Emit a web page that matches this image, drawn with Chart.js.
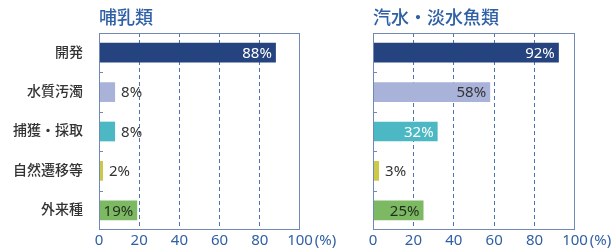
<!DOCTYPE html>
<html>
<head>
<meta charset="utf-8">
<script src="https://cdn.jsdelivr.net/npm/chart.js@4"></script>
<style>
  html, body { margin: 0; padding: 0; background: #fff; }
  #wrap { position: relative; width: 615px; height: 249px; overflow: hidden; }
  .box { position: absolute; top: 0; height: 249px; }
</style>
</head>
<body>
<div id="wrap">
  <div class="box" style="left:0;width:350px"><canvas id="left"></canvas></div>
  <div class="box" style="left:350px;width:265px"><canvas id="right"></canvas></div>
</div>
<script>
const categories = ['開発', '水質汚濁', '捕獲・採取', '自然遷移等', '外来種'];
const mammalValues = [88, 8, 8, 2, 19];
const fishValues = [92, 58, 32, 3, 25];
const xTicks = [0, 20, 40, 60, 80, 100];

const barColors = ['#24437f', '#a9b2d8', '#4cb8c4', '#cbc84a', '#7db862'];
const insideTextColors = ['#ffffff', '#333333', '#ffffff', '#333333', '#1f2f1f'];
const axisBlue = '#2f5fa5';
const fontFamily = "'Noto Sans', 'Noto Sans CJK JP', sans-serif";

// draws the frame, small category ticks, value labels, title and the "(%)" unit
const decorate = {
  id: 'decorate',
  afterDatasetsDraw(chart, args, opts) {
    const ctx = chart.ctx;
    const area = chart.chartArea;
    const y = chart.scales.y;
    const x = chart.scales.x;
    ctx.save();

    ctx.strokeStyle = '#7088b4';
    ctx.lineWidth = 1;
    ctx.strokeRect(area.left + 0.5, area.top + 0.5, area.width - 1, area.height - 1);

    ctx.beginPath();
    for (let i = 0; i < categories.length - 1; i++) {
      const py = Math.round((y.getPixelForValue(i) + y.getPixelForValue(i + 1)) / 2) + 0.5;
      ctx.moveTo(area.left, py);
      ctx.lineTo(area.left + 4, py);
    }
    ctx.stroke();

    const meta = chart.getDatasetMeta(0);
    const values = chart.data.datasets[0].data;
    ctx.font = '15px ' + fontFamily;
    ctx.textBaseline = 'middle';
    meta.data.forEach((bar, i) => {
      const v = values[i];
      const text = v + '%';
      if (v >= 15) {
        ctx.fillStyle = insideTextColors[i];
        ctx.textAlign = 'right';
        ctx.fillText(text, bar.x - 4, bar.y + 1);
      } else {
        ctx.fillStyle = '#333333';
        ctx.textAlign = 'left';
        ctx.fillText(text, bar.x + 6, bar.y + 1);
      }
    });

    ctx.fillStyle = axisBlue;
    ctx.font = '500 18px ' + fontFamily;
    ctx.textAlign = 'left';
    ctx.textBaseline = 'middle';
    ctx.fillText(opts.title, area.left, 19);

    ctx.font = '15px ' + fontFamily;
    const px = x.getPixelForValue(100);
    const w = ctx.measureText('100').width;
    ctx.fillText('(%)', px + w / 2 + 2, area.bottom + 11);
    ctx.restore();
  }
};

function makeChart(id, values, title, yWidth, padRight, showLabels) {
  return new Chart(document.getElementById(id), {
    type: 'bar',
    data: {
      labels: categories,
      datasets: [{
        data: values,
        backgroundColor: barColors,
        barPercentage: 0.5,
        categoryPercentage: 1.0
      }]
    },
    options: {
      indexAxis: 'y',
      responsive: true,
      maintainAspectRatio: false,
      animation: false,
      layout: { padding: { top: 33, right: padRight, left: 0, bottom: 0 } },
      plugins: {
        legend: { display: false },
        tooltip: { enabled: false },
        decorate: { title: title }
      },
      scales: {
        x: {
          min: 0,
          max: 100,
          afterBuildTicks: axis => { axis.ticks = xTicks.map(v => ({ value: v })); },
          afterFit: axis => { axis.height = 19; },
          border: { display: false, dash: [4, 3] },
          grid: {
            drawTicks: false,
            color: c => (c.tick.value === 0 || c.tick.value === 100) ? 'rgba(0,0,0,0)' : '#4a74b4',
            lineWidth: 1
          },
          ticks: {
            padding: 2,
            color: axisBlue,
            font: { size: 15, family: fontFamily },
            maxRotation: 0
          }
        },
        y: {
          afterFit: axis => { axis.width = yWidth; },
          border: { display: false },
          grid: { display: false },
          ticks: {
            display: showLabels,
            padding: 8,
            color: '#333333',
            font: { size: 14, family: fontFamily, weight: '500' }
          }
        }
      }
    },
    plugins: [decorate]
  });
}

makeChart('left', mammalValues, '哺乳類', 99, 50, true);
makeChart('right', fishValues, '汽水・淡水魚類', 23, 40, false);
</script>
</body>
</html>
